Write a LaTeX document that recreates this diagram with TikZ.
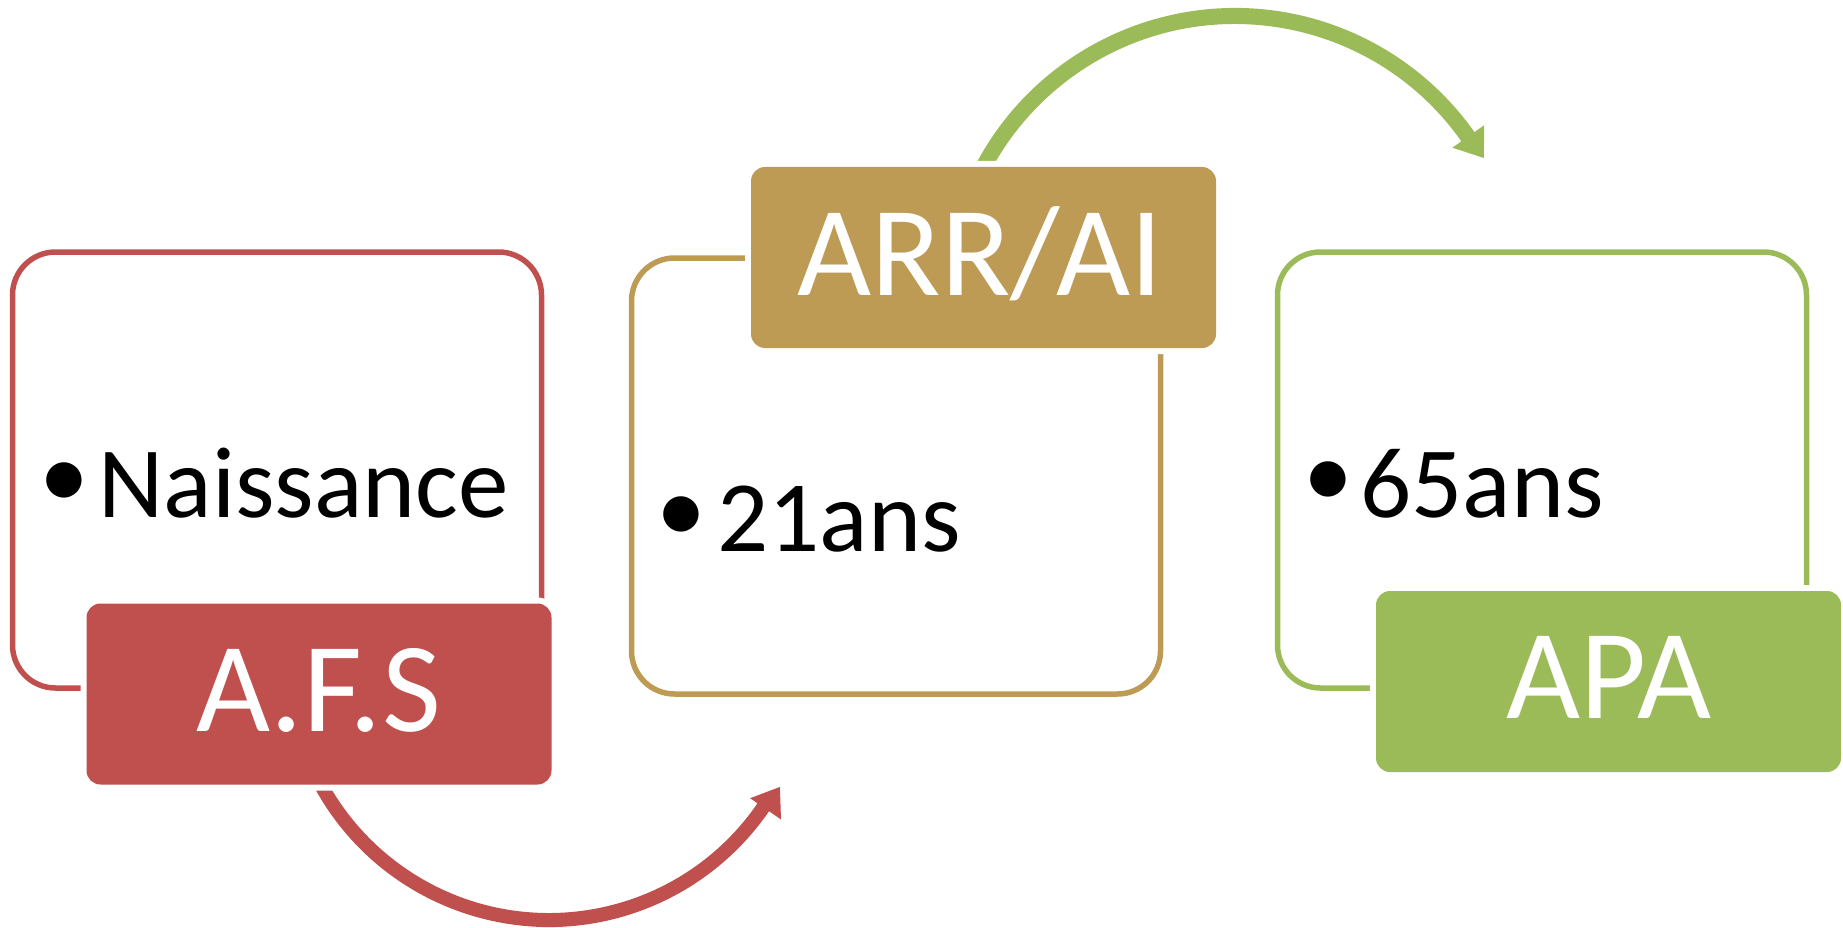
\documentclass[tikz,border=0pt]{standalone}
\usepackage{fontspec}
\setmainfont{Carlito}
\definecolor{redc}{HTML}{C0504D}
\definecolor{tanc}{HTML}{BE9B54}
\definecolor{greenc}{HTML}{9BBB59}
\begin{document}
\begin{tikzpicture}[x=1pt, y=-1pt,
  outlinebox/.style={draw=#1, line width=5.5pt, rounded corners=43pt, minimum width=529pt, minimum height=436pt, inner sep=0pt},
  labelbox/.style={fill=#1, rounded corners=14pt, minimum width=465pt, minimum height=181pt, inner sep=0pt, preaction={draw=white, line width=12pt}},
  labeltext/.style={text=white, inner sep=0pt, anchor=base, font=\fontsize{128pt}{130pt}\selectfont},
  bodytext/.style={text=black, inner sep=0pt, anchor=base west, font=\fontsize{101pt}{110pt}\selectfont},
  bulletmark/.style={text=black, inner sep=0pt, anchor=center, font=\fontsize{100pt}{110pt}\selectfont},
  arrowfill/.style={fill=#1, draw=none}
]
\useasboundingbox (0,0) rectangle (1843,928);

% outline boxes
\node[outlinebox=redc]   (o1) at (277,470) {};
\node[outlinebox=tanc]   (o2) at (896,476) {};
\node[outlinebox=greenc] (o3) at (1542,470) {};

% curved arrows
\coordinate (c1) at (549,660);
\coordinate (c2) at (1235,301);
\fill[arrowfill=redc] ([shift={(155:267)}]c1) arc[start angle=155, end angle=34.5, radius=267]
  -- ([shift={(34.5:281.5)}]c1) -- ([shift={(28.8:263.5)}]c1) -- ([shift={(34.5:244)}]c1)
  -- ([shift={(34.5:253)}]c1) arc[start angle=34.5, end angle=155, radius=253] -- cycle;
\fill[arrowfill=greenc] ([shift={(-156:293)}]c2) arc[start angle=-156, end angle=-35.2, radius=293]
  -- ([shift={(-35.2:305)}]c2) -- ([shift={(-29.9:287)}]c2) -- ([shift={(-35.2:266)}]c2)
  -- ([shift={(-35.2:277)}]c2) arc[start angle=-35.2, end angle=-156, radius=277] -- cycle;

% label boxes
\node[labelbox=redc]   (b1) at (319,694) {};
\node[labelbox=tanc]   (b2) at (983.5,257.5) {};
\node[labelbox=greenc] (b3) at (1608.5,681.5) {};

\node[labeltext] (t1) at (318.5,731.7) {A.F.S};
\node[labeltext] (t2) at (980,295) {ARR/AI};
\node[labeltext] (t3) at (1608.5,718) {APA};

% bullet texts
\node[bulletmark] (p1) at (64,486) {•};
\node[bulletmark] (p2) at (681.5,520) {•};
\node[bulletmark] (p3) at (1328,485) {•};
\node[bodytext] (x1) at (98.5,517.3) {Naissance};
\node[bodytext] (x2) at (717,551.7) {21ans};
\node[bodytext] (x3) at (1360,517.3) {65ans};
\end{tikzpicture}
\end{document}
